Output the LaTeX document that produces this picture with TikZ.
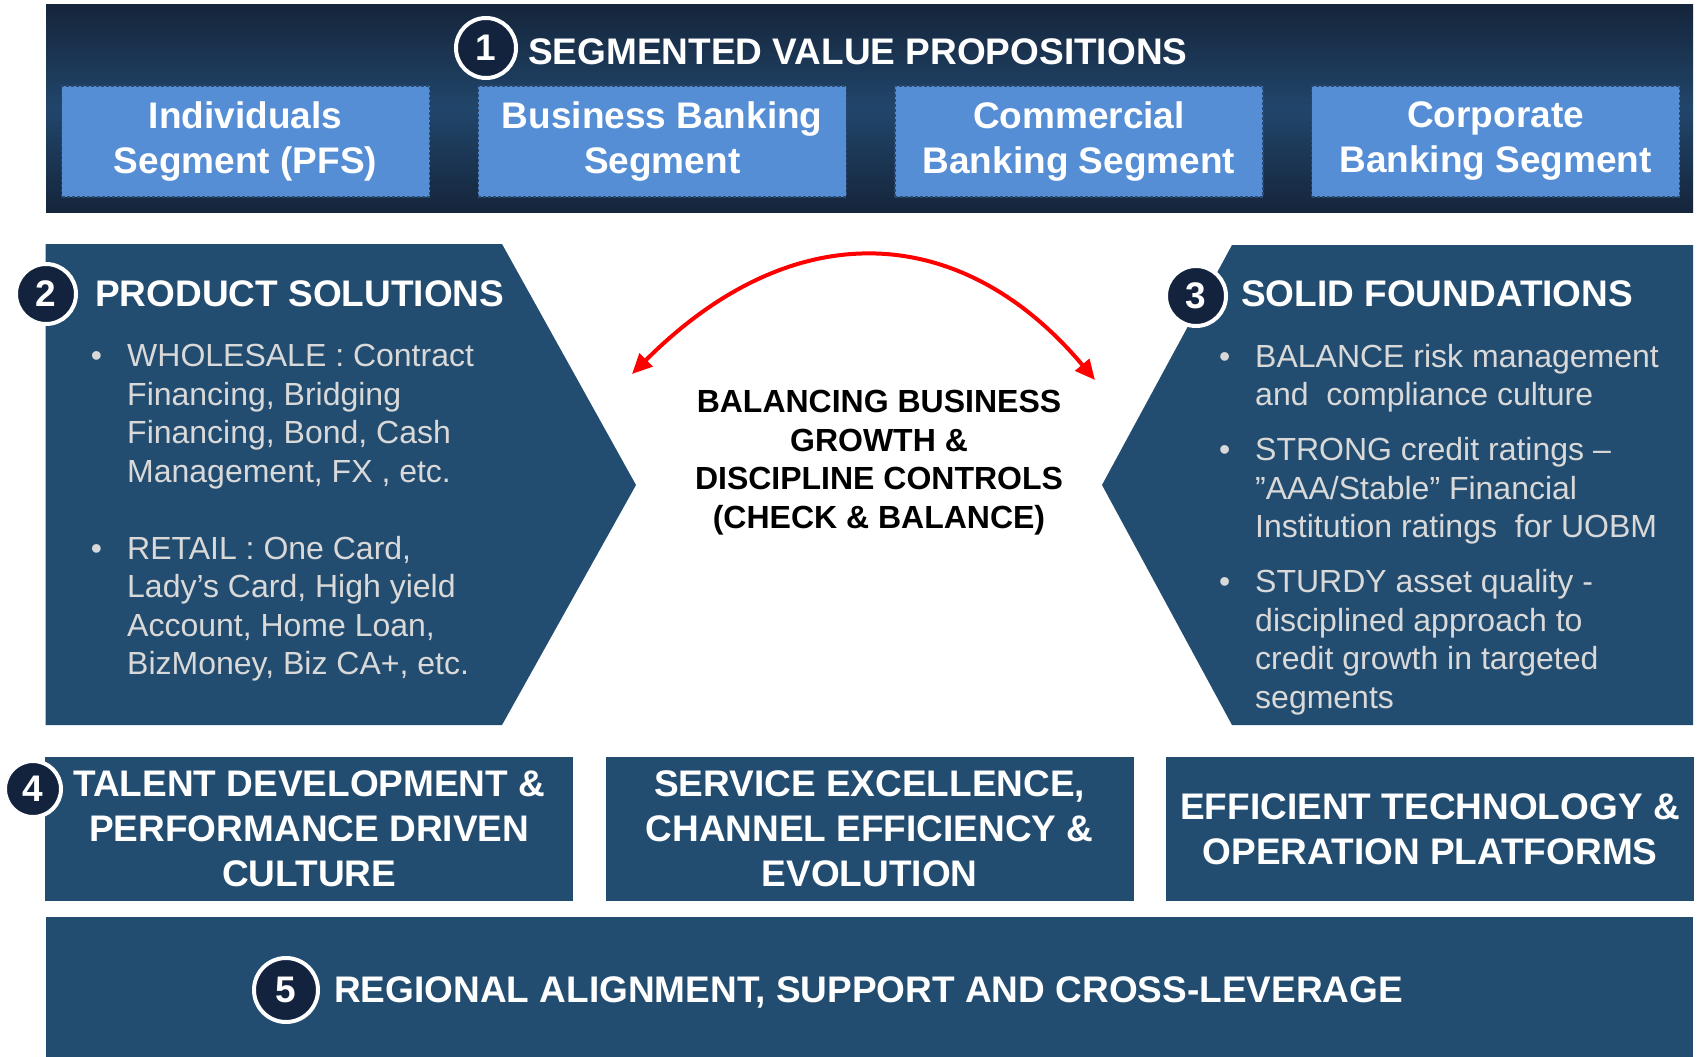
\documentclass[tikz,border=0pt]{standalone}
\usepackage{fontspec}
\setsansfont{Liberation Sans}
\usepackage{xcolor}
\usepackage{tikz}
\usetikzlibrary{arrows.meta, positioning}
\definecolor{StratNavy}{HTML}{15253B}
\definecolor{StratMid}{HTML}{21466B}
\definecolor{StratPanel}{HTML}{234D70}
\definecolor{StratSky}{HTML}{558ED5}
\definecolor{StratEdge}{HTML}{2A4A73}
\definecolor{StratDot}{HTML}{13233E}
\definecolor{StratGrey}{HTML}{D9D9D9}
\definecolor{StratRed}{HTML}{FF0000}

\begin{document}
\begin{tikzpicture}[x=1pt, y=1pt,
  font=\fontsize{37}{41}\selectfont\sffamily\bfseries,
  >={Triangle[length=20pt, width=18pt]}, node distance=47.5pt,
  seg/.style={rectangle, fill=StratSky, draw=StratEdge, line width=1.2pt,
              dash pattern=on 3pt off 2pt, text=white, align=center,
              minimum width=368pt, minimum height=111pt, inner sep=0pt,
              font=\fontsize{37}{45}\selectfont\sffamily\bfseries},
  pillar/.style={rectangle, fill=StratPanel, text=white, align=center,
                 minimum width=528pt, minimum height=144pt, inner sep=0pt,
                 font=\fontsize{37}{45}\selectfont\sffamily\bfseries},
  numc/.style={circle, fill=StratDot, draw=white, line width=4pt, text=white,
               minimum size=60pt, inner sep=0pt},
  head/.style={text=white, inner sep=0pt, anchor=base west},
  body/.style={text=StratGrey, inner sep=0pt, anchor=north west, align=left,
               font=\fontsize{32}{38.5}\selectfont\sffamily\mdseries},
  arr/.style={<->, draw=StratRed, line width=4pt},
]
\fill[white] (0,0) rectangle (1700,-1057);
\useasboundingbox (0,0) rectangle (1700,-1057);

% segments band
\shade[top color=StratNavy, bottom color=StratNavy, middle color=StratMid]
  (46,-5) rectangle (1693,-212);
\node[numc] (n1) at (486,-48) {1};
\node[head] (vp) at (528,-65) {SEGMENTED VALUE PROPOSITIONS};
\node[seg] (pfs) at (245.5,-141.5) {Individuals\\Segment (PFS)};
\node[seg, right=of pfs] (bbs) {Business Banking\\Segment};
\node[seg, right=of bbs] (cbs) {Commercial\\Banking Segment};
\node[seg, right=of cbs] (corp) {Corporate\\Banking Segment};

% chevron panels
\fill[StratPanel] (45.5,-244) -- (502,-244) -- (636,-485) -- (502,-725) -- (45.5,-725) -- cycle;
\fill[StratPanel] (1232,-245) -- (1693,-245) -- (1693,-725) -- (1232,-725) -- (1102,-485) -- cycle;

\node[numc] (n2) at (46,-294) {2};
\node[head] (prod) at (95,-306) {PRODUCT SOLUTIONS};
\node[body] (prodtxt) at (127,-344)
  {\llap{\textbullet\hspace{25pt}}WHOLESALE : Contract\\Financing, Bridging\\Financing, Bond, Cash\\Management, FX , etc.\\[38.5pt]
   \llap{\textbullet\hspace{25pt}}RETAIL : One Card,\\Lady’s Card, High yield\\Account, Home Loan,\\BizMoney, Biz CA+, etc.};

\node[numc] (n3) at (1196,-296) {3};
\node[head] (found) at (1241,-306) {SOLID FOUNDATIONS};
\node[body] (foundtxt) at (1255,-344)
  {\llap{\textbullet\hspace{25pt}}BALANCE risk management\\and\ \ compliance culture\\[16.5pt]
   \llap{\textbullet\hspace{25pt}}STRONG credit ratings –\\”AAA/Stable” Financial\\Institution ratings\ \ for UOBM\\[16.5pt]
   \llap{\textbullet\hspace{25pt}}STURDY asset quality -\\disciplined approach to\\credit growth in targeted\\segments};

\node[font=\fontsize{32}{38.5}\selectfont\sffamily\bfseries, align=center, anchor=north, inner sep=0pt]
  (bal) at (879,-390) {BALANCING BUSINESS\\GROWTH \&\\DISCIPLINE CONTROLS\\(CHECK \& BALANCE)};
\coordinate (lt) at (632,-374);
\coordinate (rt) at (1095,-380);
\draw[arr] (lt) .. controls (796,-210) and (964,-224) .. (rt);

% enablers
\node[pillar] (talent) at (309.25,-829) {TALENT DEVELOPMENT \&\\PERFORMANCE DRIVEN\\CULTURE};
\node[pillar, right=32pt of talent] (service) {SERVICE EXCELLENCE,\\CHANNEL EFFICIENCY \&\\EVOLUTION};
\node[pillar, right=32pt of service] (tech) {EFFICIENT TECHNOLOGY \&\\OPERATION PLATFORMS};
\node[numc, minimum size=56pt] (n4) at (33,-789) {4};

\fill[StratPanel] (45.5,-917) rectangle (1693,-1057);
\node[numc, minimum size=64pt] (n5) at (286,-990) {5};
\node[head] (regional) at (334,-1002) {REGIONAL ALIGNMENT, SUPPORT AND CROSS-LEVERAGE};
\end{tikzpicture}
\end{document}
